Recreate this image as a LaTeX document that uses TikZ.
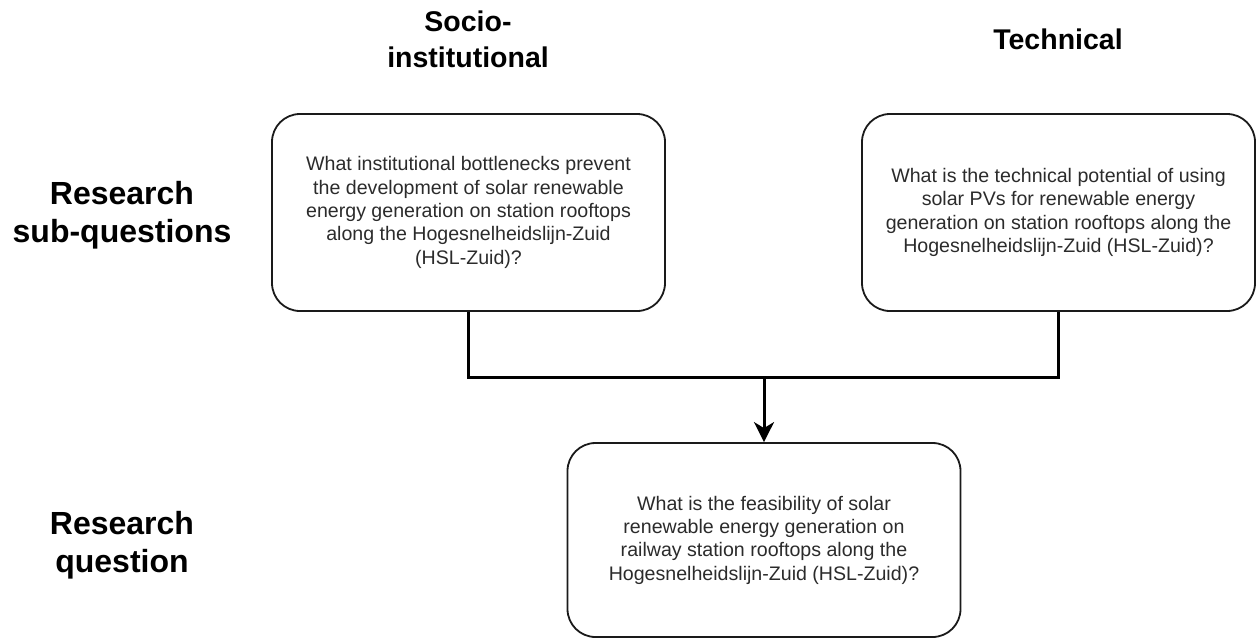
\documentclass[tikz,border=0pt]{standalone}
\usepackage{fontspec}
\setmainfont{Liberation Sans}
\usetikzlibrary{arrows.meta}
\definecolor{boxtext}{HTML}{2B2B2B}
\definecolor{boxline}{HTML}{1A1A1A}
\tikzset{
  qbox/.style={draw=boxline, line width=1.8pt, rounded corners=28pt,
    minimum width=393pt, minimum height=197pt, align=center,
    text=boxtext, font=\fontsize{19.6pt}{23.3pt}\selectfont, inner sep=0pt},
  colhead/.style={align=center, font=\fontsize{28.5pt}{36pt}\selectfont\bfseries},
  rowhead/.style={align=center, font=\fontsize{32pt}{38.5pt}\selectfont\bfseries},
  link/.style={line width=3pt, draw=black, line join=miter},
}
\begin{document}
\begin{tikzpicture}[x=1pt,y=-1pt]
\useasboundingbox (0,0) rectangle (1257,638);
% column headings
\node[colhead] (hsoc) at (468,39) {Socio-\\institutional};
\node[colhead, anchor=base] (htech) at (1058,49) {Technical};
% row headings
\node[rowhead] (hsub) at (122,215) {Research\\sub-questions};
\node[rowhead] (hmain) at (122,545) {Research\\question};
% boxes
\node[qbox] (b1) at (468.5,212.5) {What institutional bottlenecks prevent\\the development of solar renewable\\energy generation on station rooftops\\along the Hogesnelheidslijn-Zuid\\(HSL-Zuid)?};
\node[qbox] (b2) at (1058.5,212.5) {What is the technical potential of using\\solar PVs for renewable energy\\generation on station rooftops along the\\Hogesnelheidslijn-Zuid (HSL-Zuid)?};
\node[qbox, minimum height=194pt] (b3) at (764,540) {What is the feasibility of solar\\renewable energy generation on\\railway station rooftops along the\\Hogesnelheidslijn-Zuid (HSL-Zuid)?};
% connectors
\coordinate (j) at (764,377);
\draw[link] (b1.south) |- (j) -| (b2.south);
\draw[link, -{Stealth[length=20pt, width=20pt, inset=6pt]}] (j) -- (b3.north);
\end{tikzpicture}
\end{document}
